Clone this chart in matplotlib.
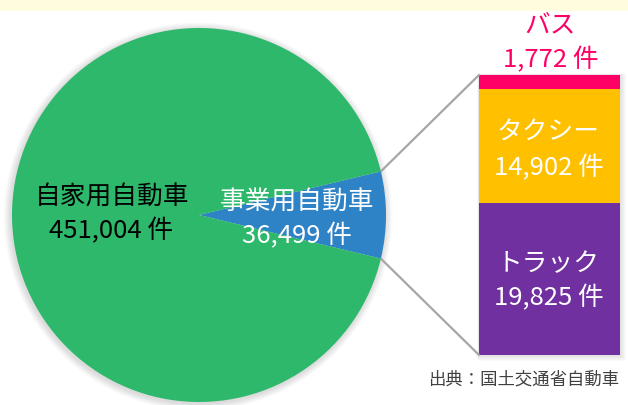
import matplotlib
matplotlib.use("Agg")
import matplotlib.pyplot as plt
from matplotlib.patches import Circle, Rectangle
from matplotlib.patches import ConnectionPatch
import numpy as np

plt.rcParams['font.family'] = ['Noto Sans CJK JP', 'DejaVu Sans']

# ---- data ----
pie_labels = ["事業用自動車", "自家用自動車"]
pie_values = [36499, 451004]
bar_labels = ["トラック", "タクシー", "バス"]
bar_values = [19825, 14902, 1772]
unit = "件"
source_text = "出典：国土交通省自動車"

pie_colors = ["#2E82C6", "#2DB86B"]
bar_colors = ["#7030A0", "#FFC000", "#FF0066"]

W, H = 628, 405
fig = plt.figure(figsize=(W / 100, H / 100), dpi=100)
fig.patch.set_facecolor("white")

# bar axes (drawn below the main overlay axes)
bx0, bx1, by0, by1 = 479, 620, 75, 355
ax2 = fig.add_axes([bx0 / W, 1 - by1 / H, (bx1 - bx0) / W, (by1 - by0) / H])
ax2.set_zorder(0)
total = sum(bar_values)
ax2.set_xlim(-0.5, 0.5)
ax2.set_ylim(0, total)
ax2.axis("off")

px_x = 1 / (bx1 - bx0)
px_y = total / (by1 - by0)
for k in range(1, 7):
    ax2.add_patch(Rectangle((-0.5 - k * px_x * 0.3, -k * px_y),
                            1 + k * px_x * 1.3, total + k * px_y * 1.3,
                            facecolor="black", alpha=0.02, lw=0, zorder=0,
                            clip_on=False))

bottom = 0
for v, c in zip(bar_values, bar_colors):
    ax2.bar(0, v, bottom=bottom, width=1, color=c, lw=0, zorder=2)
    bottom += v

# main overlay axes in pixel coordinates
ax = fig.add_axes([0, 0, 1, 1])
ax.set_zorder(1)
ax.patch.set_alpha(0)
cx, cy, r = 199, 215, 187

for k in range(1, 8):
    ax.add_patch(Circle((cx - 1, cy + 1.5), r + k, facecolor="black",
                        alpha=0.018, lw=0, zorder=0))

frac = pie_values[0] / sum(pie_values)
wedges, _ = ax.pie(pie_values, colors=pie_colors, center=(cx, cy), radius=r,
                   startangle=-frac * 360 / 2, counterclock=True,
                   wedgeprops=dict(linewidth=0), frame=True)
for w in wedges:
    w.set_zorder(2)

ax.set_xlim(0, W)
ax.set_ylim(H, 0)
ax.set_aspect("auto")
ax.axis("off")

ax.add_patch(Rectangle((0, 0), W, 11, facecolor="#FFFDDD", lw=0, zorder=1))

fs = 18.5
ax.text(112, 198, pie_labels[1], ha="center", va="center", fontsize=fs,
        color="black", zorder=5)
ax.text(111, 231, f"{pie_values[1]:,} {unit}", ha="center", va="center",
        fontsize=fs, color="black", zorder=5)
ax.text(297, 203, pie_labels[0], ha="center", va="center", fontsize=fs,
        color="white", zorder=5)
ax.text(297, 236, f"{pie_values[0]:,} {unit}", ha="center", va="center",
        fontsize=fs, color="white", zorder=5)

ax.text(550, 25, bar_labels[2], ha="center", va="center", fontsize=fs,
        color="#FF0066", zorder=5)
ax.text(551, 60, f"{bar_values[2]:,} {unit}", ha="center", va="center",
        fontsize=fs, color="#FF0066", zorder=5)
ax.text(548, 133, bar_labels[1], ha="center", va="center", fontsize=fs,
        color="white", zorder=5)
ax.text(549, 168, f"{bar_values[1]:,} {unit}", ha="center", va="center",
        fontsize=fs, color="white", zorder=5)
ax.text(548, 264, bar_labels[0], ha="center", va="center", fontsize=fs,
        color="white", zorder=5)
ax.text(549, 298, f"{bar_values[0]:,} {unit}", ha="center", va="center",
        fontsize=fs, color="white", zorder=5)

# connecting lines
w0 = wedges[0]
for ang, yb in [(w0.theta1, total), (w0.theta2, 0)]:
    x = cx + r * np.cos(np.radians(ang))
    y = cy + r * np.sin(np.radians(ang))
    con = ConnectionPatch(xyA=(x, y), coordsA=ax.transData,
                          xyB=(-0.5, yb), coordsB=ax2.transData,
                          color="#A6A6A6", linewidth=1.6)
    ax.add_artist(con)

ax.text(428, 379, source_text, ha="left", va="center", fontsize=12.5,
        color="#404040", zorder=5)

fig.savefig("out.png", dpi=100)
